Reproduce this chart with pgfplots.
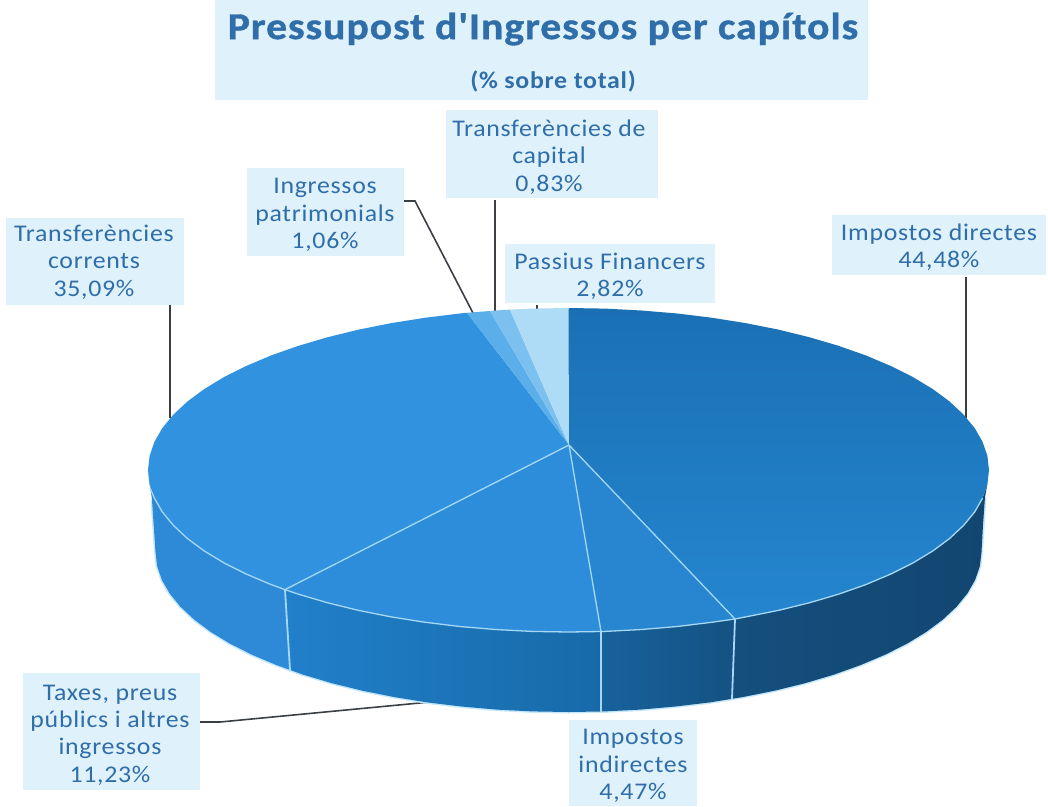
\documentclass[border=0pt]{standalone}
\usepackage{fontspec}
\setmainfont{Carlito}
\newfontfamily\lblfont[LetterSpace=3,FakeStretch=1.08]{Carlito}
\newfontfamily\ttlfont[LetterSpace=2.5,FakeStretch=1.1,FakeBold=1]{Carlito Bold}
\newfontfamily\subfont[LetterSpace=3,FakeStretch=1.08]{Carlito Bold}
\usepackage{pgfplots}
\pgfplotsset{compat=1.18}
\definecolor{boxc}{HTML}{DFF1FB}
\definecolor{txt}{HTML}{2F6EA9}
\definecolor{sep}{HTML}{A5D8F5}
\definecolor{leader}{HTML}{3A3F44}
\definecolor{halo}{HTML}{C4E8FA}
\definecolor{HTMLa}{HTML}{3193DF}
\definecolor{HTMLas}{HTML}{2E8AD6}
\definecolor{HTMLb}{HTML}{2180CA}
\definecolor{HTMLc}{HTML}{176AA8}
\definecolor{HTMLd}{HTML}{17629C}
\definecolor{HTMLe}{HTML}{145282}
\definecolor{HTMLf}{HTML}{144F7E}
\definecolor{HTMLg}{HTML}{124670}
\definecolor{HTMLh}{HTML}{1B70B4}
\definecolor{HTMLi}{HTML}{2486CF}
\definecolor{HTMLj}{HTML}{2786CF}
\definecolor{HTMLk}{HTML}{2E8DDA}
\definecolor{HTMLl}{HTML}{5AAEEA}
\definecolor{HTMLm}{HTML}{7CC0EF}
\definecolor{HTMLn}{HTML}{AEDCF6}
\tikzset{lab/.style={text=txt,align=center,font=\fontsize{24}{27.5}\selectfont\lblfont,inner sep=0pt}}
\newcommand{\labbox}[4]{\fill[boxc] (axis cs:#1,#2) rectangle (axis cs:#3,#4);}
\begin{document}
\begin{tikzpicture}
\begin{axis}[
  scale only axis,width=1048bp,height=806bp,
  xmin=0,xmax=1048,ymin=0,ymax=806,y dir=reverse,
  axis lines=none,clip=false]
\path (axis cs:0,0) rectangle (axis cs:1048,806);
% label boxes
\labbox{215}{0}{868}{100}
\labbox{6}{218}{184}{305}
\labbox{247}{168}{404}{256}
\labbox{446}{110}{658}{198}
\labbox{505}{244}{715}{303}
\labbox{832}{215}{1046}{275}
\labbox{23}{673}{200}{790}
\labbox{569}{720}{697}{806}
% leaders
\addplot[leader,line width=1.6pt] coordinates {(170,305)(170,418)};
\addplot[leader,line width=1.6pt] coordinates {(404,201)(415,201)(473,313)};
\addplot[leader,line width=1.6pt] coordinates {(495,200)(495,312)};
\addplot[leader,line width=1.6pt] coordinates {(537,305)(537,309)};
\addplot[leader,line width=1.6pt] coordinates {(966,277)(966,418)};
\addplot[leader,line width=1.6pt] coordinates {(200,722)(220,722)(430,702)};
% halo under the lower rim
\addplot[halo,line width=3pt] coordinates {(152,500)(155.5,552)(157.1,565.9)(161.8,579.8)(169.6,593.4)(180.4,606.7)(194.2,619.6)(210.8,632)(230.2,643.8)(252.1,654.8)(276.5,665.1)(303,674.6)(331.6,683.1)(362,690.6)(394,697)(427.2,702.4)(461.6,706.5)(496.8,709.6)(532.5,711.4)(568.5,712)(604.5,711.4)(640.2,709.6)(675.4,706.5)(709.8,702.4)(743,697)(775,690.6)(805.4,683.1)(834,674.6)(860.5,665.1)(884.9,654.8)(906.8,643.8)(926.2,632)(942.8,619.6)(956.6,606.7)(967.4,593.4)(975.2,579.8)(979.9,565.9)(981.5,552)(985,497)};
% side walls
\addplot[fill=HTMLas,draw=none] coordinates {(148,470)(149.6,484.1)(154.4,498.1)(173.4,525.4)(204.3,551)(246.4,574.1)(285,589.6)(290,669.9)(276.5,665.1)(252.1,654.8)(230.2,643.8)(210.8,632)(194.2,619.6)(180.4,606.7)(169.6,593.4)(161.8,579.8)(157.1,565.9)(155.5,552)(152,500)} -- cycle;
\addplot[left color=HTMLb,right color=HTMLc,draw=none] coordinates {(285,589.6)(298.2,594.1)(358.2,610.3)(424.7,622.2)(495.5,629.5)(568.5,632)(601,631.5)(601,711.5)(568.5,712)(532.5,711.4)(496.8,709.6)(461.6,706.5)(427.2,702.4)(394,697)(362,690.6)(331.6,683.1)(303,674.6)(290,669.9)} -- cycle;
\addplot[left color=HTMLd,right color=HTMLe,draw=none] coordinates {(601,631.5)(641.5,629.5)(712.3,622.2)(735,619)(732,698.8)(709.8,702.4)(675.4,706.5)(640.2,709.6)(604.5,711.4)(601,711.5)} -- cycle;
\addplot[left color=HTMLf,right color=HTMLg,draw=none] coordinates {(735,619)(778.8,610.3)(838.8,594.1)(890.6,574.1)(932.7,551)(963.6,525.4)(982.6,498.1)(987.4,484.1)(985,497)(983,525)(981.5,552)(979.9,565.9)(975.2,579.8)(967.4,593.4)(956.6,606.7)(942.8,619.6)(926.2,632)(906.8,643.8)(884.9,654.8)(860.5,665.1)(834,674.6)(805.4,683.1)(775,690.6)(743,697)(732,698.8)} -- cycle;
\addplot[sep,line width=1.8pt] coordinates {(285,589.6)(290,669.9)};
\addplot[sep,line width=1.8pt] coordinates {(601,631.5)(601,711.5)};
\addplot[sep,line width=1.8pt] coordinates {(735,619)(732,698.8)};
% top wedges
\addplot[top color=HTMLh,bottom color=HTMLi,draw=none] coordinates {(569,445)(568.5,308)(605.1,308.6)(641.5,310.5)(677.3,313.5)(712.3,317.8)(746.2,323.2)(778.8,329.7)(809.7,337.3)(838.8,345.9)(865.8,355.4)(890.6,365.9)(913,377.1)(932.7,389)(949.6,401.5)(963.6,414.6)(974.7,428.1)(982.6,441.9)(987.4,455.9)(989,470)(987.4,484.1)(982.6,498.1)(974.7,511.9)(963.6,525.4)(949.6,538.5)(932.7,551)(913,562.9)(890.6,574.1)(865.8,584.6)(838.8,594.1)(809.7,602.7)(778.8,610.3)(746.2,616.8)(735,619)} -- cycle;
\addplot[fill=HTMLj,draw=none] coordinates {(569,445)(735,619)(712.3,622.2)(677.3,626.5)(641.5,629.5)(605.1,631.4)(601,631.5)} -- cycle;
\addplot[fill=HTMLk,draw=none] coordinates {(569,445)(601,631.5)(568.5,632)(531.9,631.4)(495.5,629.5)(459.7,626.5)(424.7,622.2)(390.8,616.8)(358.2,610.3)(327.3,602.7)(298.2,594.1)(285,589.6)} -- cycle;
\addplot[fill=HTMLa,draw=none] coordinates {(569,445)(285,589.6)(271.2,584.6)(246.4,574.1)(224,562.9)(204.3,551)(187.4,538.5)(173.4,525.4)(162.3,511.9)(154.4,498.1)(149.6,484.1)(148,470)(149.6,455.9)(154.4,441.9)(162.3,428.1)(173.4,414.6)(187.4,401.5)(204.3,389)(224,377.1)(246.4,365.9)(271.2,355.4)(298.2,345.9)(327.3,337.3)(358.2,329.7)(390.8,323.2)(424.7,317.8)(459.7,313.5)(467,312.8)} -- cycle;
\addplot[fill=HTMLl,draw=none] coordinates {(569,445)(467,312.8)(490,311)} -- cycle;
\addplot[fill=HTMLm,draw=none] coordinates {(569,445)(490,311)(495.5,310.5)(510,309.6)} -- cycle;
\addplot[fill=HTMLn,draw=none] coordinates {(569,445)(510,309.6)(531.9,308.6)(568.5,308)} -- cycle;
% wedge separators and front rim
\addplot[sep,line width=1.3pt] coordinates {(569,445)(735,619)};
\addplot[sep,line width=1.3pt] coordinates {(569,445)(601,631.5)};
\addplot[sep,line width=1.3pt] coordinates {(569,445)(285,589.6)};
\addplot[sep,line width=1.3pt] coordinates {(982.6,498.1)(974.7,511.9)(963.6,525.4)(949.6,538.5)(932.7,551)(913,562.9)(890.6,574.1)(865.8,584.6)(838.8,594.1)(809.7,602.7)(778.8,610.3)(746.2,616.8)(735,619)(712.3,622.2)(677.3,626.5)(641.5,629.5)(605.1,631.4)(601,631.5)(568.5,632)(531.9,631.4)(495.5,629.5)(459.7,626.5)(424.7,622.2)(390.8,616.8)(358.2,610.3)(327.3,602.7)(298.2,594.1)(285,589.6)(271.2,584.6)(246.4,574.1)(224,562.9)(204.3,551)(187.4,538.5)(173.4,525.4)(162.3,511.9)(154.4,498.1)(150,488)};
% texts
\node[text=txt,font=\fontsize{38}{40}\selectfont\ttlfont,inner sep=0pt] at (axis cs:543,29) {Pressupost d\symbol{39}Ingressos per capítols};
\node[text=txt,font=\fontsize{24}{26}\selectfont\subfont,inner sep=0pt] at (axis cs:553,81) {(\% sobre total)};
\node[lab] at (axis cs:94,262) {Transferències\\corrents\\35,09\%};
\node[lab] at (axis cs:325,215) {Ingressos\\patrimonials\\1,06\%};
\node[lab] at (axis cs:549,157) {Transferències de\\capital\\0,83\%};
\node[lab] at (axis cs:610,276) {Passius Financers\\2,82\%};
\node[lab] at (axis cs:939,247) {Impostos directes\\44,48\%};
\node[lab] at (axis cs:110,735) {Taxes, preus\\públics i altres\\ingressos\\11,23\%};
\node[lab] at (axis cs:633,766) {Impostos\\indirectes\\4,47\%};
\end{axis}
\end{tikzpicture}
\end{document}
